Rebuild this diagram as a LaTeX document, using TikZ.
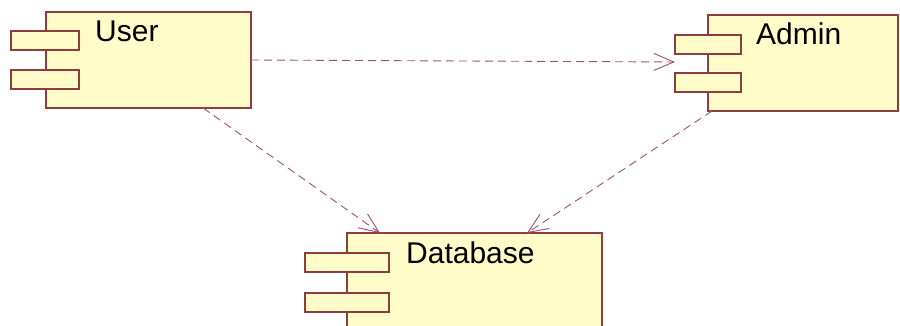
\documentclass[tikz,border=0pt]{standalone}
\usepackage{fontspec}
\setmainfont{Liberation Sans}
\usetikzlibrary{arrows.meta,calc}
\definecolor{boxfill}{RGB}{255,252,202}
\definecolor{boxline}{RGB}{140,62,62}
\definecolor{deplink}{RGB}{160,80,118}
\tikzset{
  comp/.style={draw=boxline, fill=boxfill, line width=1.3pt, rectangle,
    anchor=north west, inner sep=0pt, outer sep=0pt},
  port/.style={draw=boxline, fill=boxfill, line width=1.3pt, rectangle,
    anchor=north west, inner sep=0pt, outer sep=0pt},
  title/.style={anchor=base west, inner sep=0pt, font=\fontsize{30}{36}\selectfont},
  dep/.style={draw=deplink, line width=0.9pt, dash pattern=on 8pt off 5pt,
    -{Straight Barb[length=20pt,width=17pt,line width=0.9pt]}}
}
\begin{document}
\begin{tikzpicture}[x=1pt,y=-1pt]
\useasboundingbox (0,0) rectangle (900,326);
\clip (0,0) rectangle (900,326);
\fill[white] (0,0) rectangle (900,326);

% User component
\node[comp, minimum width=205pt, minimum height=96pt] (user) at (46,12) {};
\node[port, minimum width=68pt, minimum height=19pt] (userp1) at (11,31) {};
\node[port, minimum width=68pt, minimum height=19pt] (userp2) at (11,70) {};
\node[title] (usert) at (95,42) {User};

% Admin component
\node[comp, minimum width=190pt, minimum height=96pt] (admin) at (708,15) {};
\node[port, minimum width=66pt, minimum height=19pt] (adminp1) at (675,35) {};
\node[port, minimum width=66pt, minimum height=19pt] (adminp2) at (675,73) {};
\node[title] (admint) at (756,45) {Admin};

% Database component
\node[comp, minimum width=255pt, minimum height=110pt] (db) at (347,233) {};
\node[port, minimum width=84pt, minimum height=19pt] (dbp1) at (305,253) {};
\node[port, minimum width=84pt, minimum height=19pt] (dbp2) at (305,293) {};
\node[title] (dbt) at (406,263) {Database};

% Dependencies
\draw[dep] (user.east) -- ($(admin.west)+(-33,-1)$);
\draw[dep] ($(user.south west)!0.766!(user.south east)$) -- ($(db.north west)!0.129!(db.north east)$);
\draw[dep] ($(admin.south west)+(4,0)$) -- ($(db.north west)!0.706!(db.north east)$);
\end{tikzpicture}
\end{document}
